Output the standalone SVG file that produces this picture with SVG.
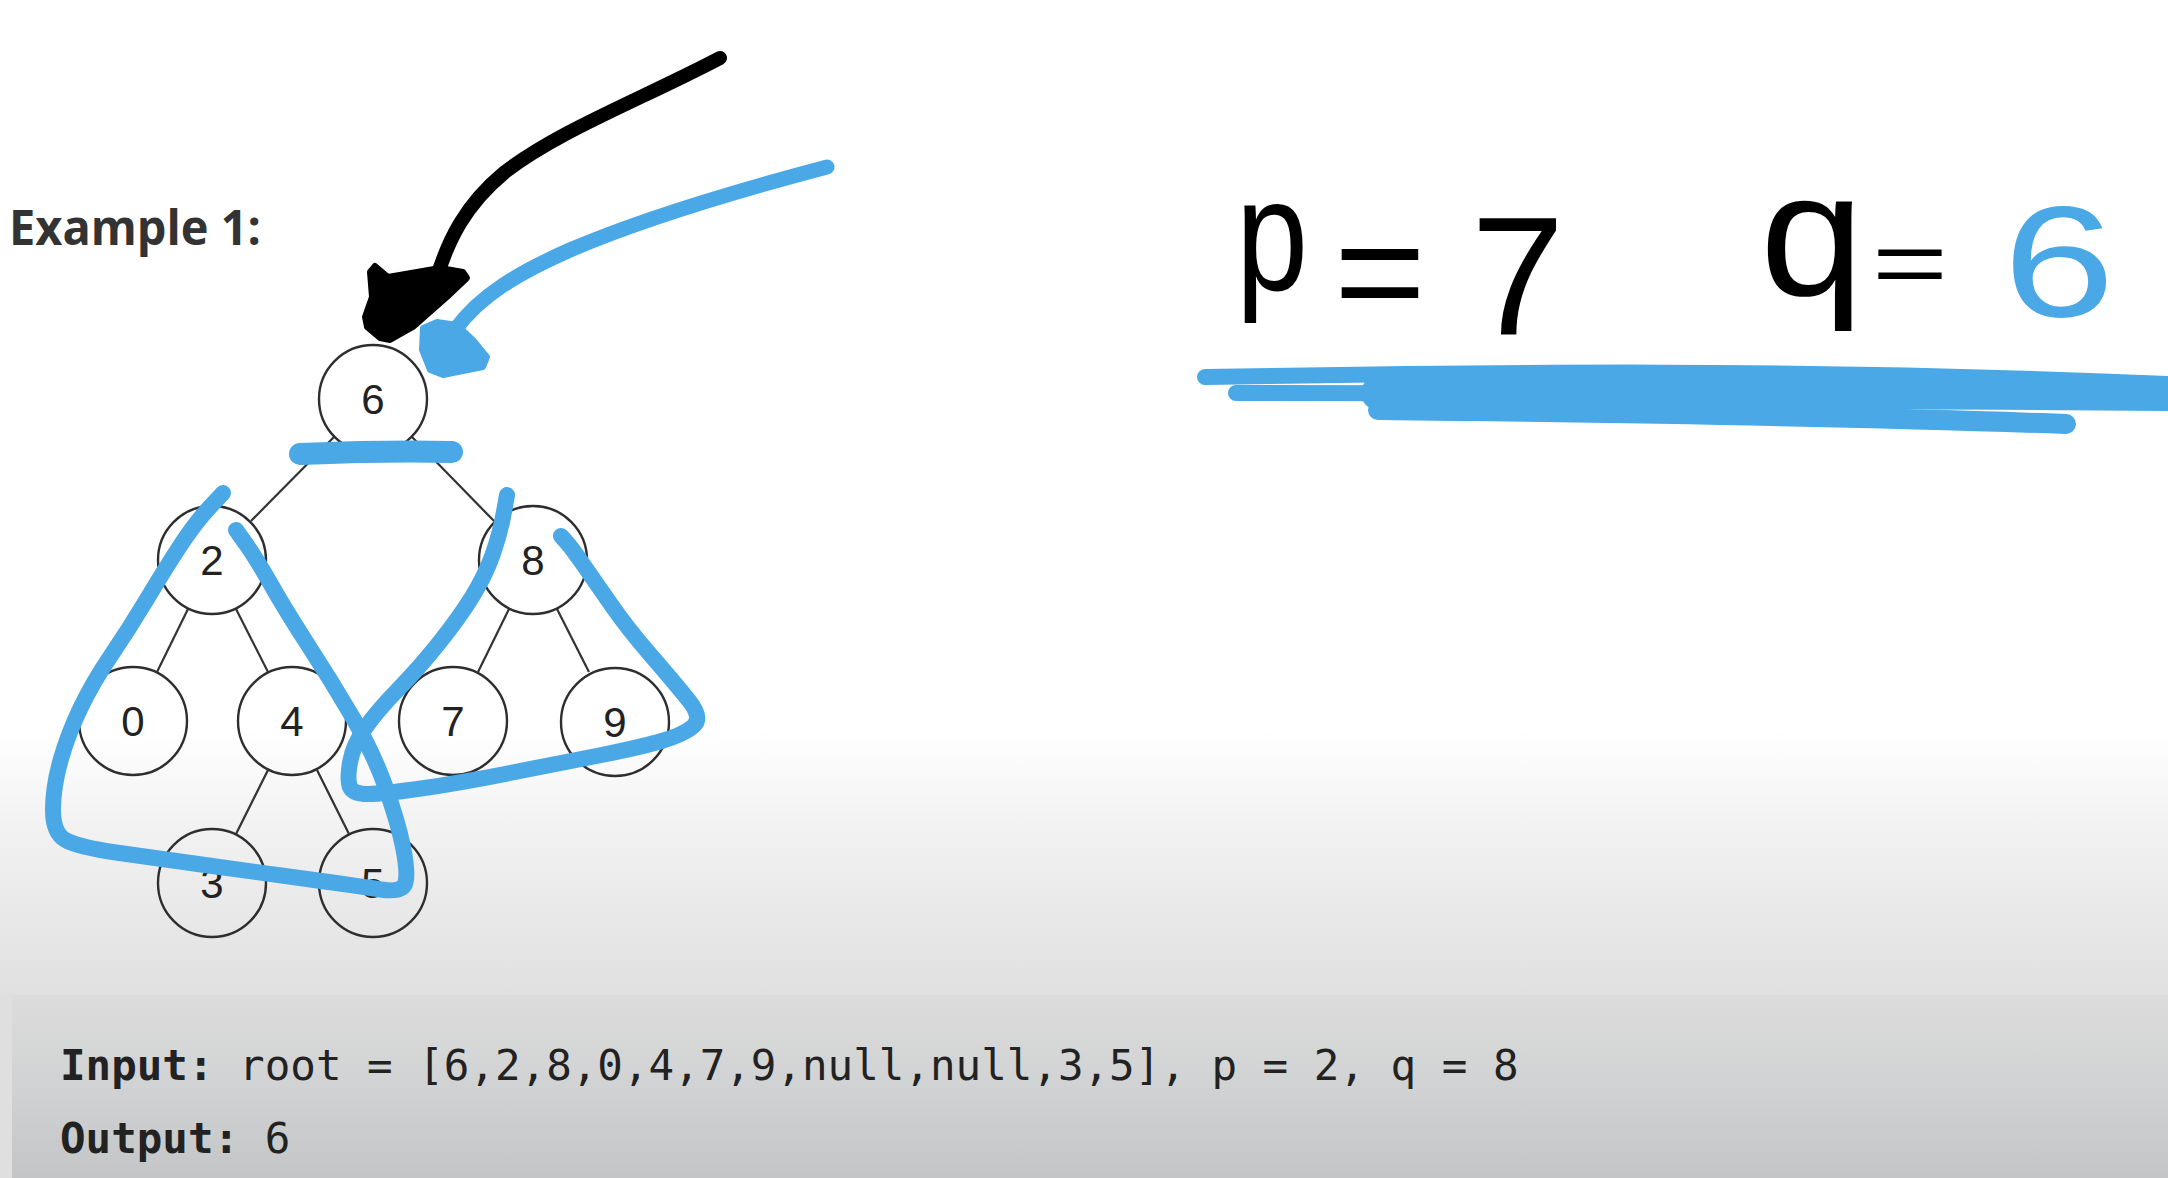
<svg xmlns="http://www.w3.org/2000/svg" width="2168" height="1178" viewBox="0 0 2168 1178">
  <defs>
    <linearGradient id="bgGrad" x1="0" y1="0" x2="0" y2="1">
      <stop offset="0" stop-color="#ffffff"/>
      <stop offset="0.3" stop-color="#f4f4f4"/>
      <stop offset="0.6" stop-color="#ebebeb"/>
      <stop offset="1" stop-color="#e0e0e0"/>
    </linearGradient>
    <linearGradient id="panelGrad" x1="0" y1="0" x2="0" y2="1">
      <stop offset="0" stop-color="#dcdcdc"/>
      <stop offset="0.5" stop-color="#d1d2d3"/>
      <stop offset="1" stop-color="#c4c5c7"/>
    </linearGradient>
    <style>
      .edge { stroke: #333333; stroke-width: 2.2; fill: none; }
      .node circle { stroke: #2e2e2e; stroke-width: 2.4; fill: none; }
      .node text { font-family: "Liberation Sans", Arial, sans-serif; font-size: 42px; fill: #222222; text-anchor: middle; }
      .blue { stroke: #4aa8e6; fill: none; stroke-linecap: round; stroke-linejoin: round; }
      .hand { font-family: "Liberation Sans", Arial, sans-serif; fill: #000000; }
      .mono { font-family: "DejaVu Sans Mono", "Liberation Mono", monospace; font-size: 42.5px; fill: #222222; }
    </style>
  </defs>

  <!-- background -->
  <rect x="0" y="0" width="2168" height="1178" fill="#ffffff"/>
  <rect x="0" y="730" width="2168" height="266" fill="url(#bgGrad)"/>
  <rect x="0" y="995" width="2168" height="183" fill="#dfdfdf"/>
  <rect x="12" y="995" width="2156" height="183" fill="url(#panelGrad)"/>

  <!-- title -->
  <text id="example-title" x="9" y="245" font-family="'Open Sans', 'Noto Sans', sans-serif" font-weight="bold" font-size="48" fill="#333333" textLength="252" lengthAdjust="spacingAndGlyphs">Example 1:</text>

  <!-- connectors -->
  <g id="edges">
    <line class="edge" x1="334" y1="437" x2="251" y2="521"/>
    <line class="edge" x1="412" y1="437" x2="494" y2="521"/>
    <line class="edge" x1="188" y1="609" x2="157" y2="672"/>
    <line class="edge" x1="236" y1="609" x2="268" y2="672"/>
    <line class="edge" x1="509" y1="609" x2="478" y2="672"/>
    <line class="edge" x1="557" y1="609" x2="589" y2="672"/>
    <line class="edge" x1="268" y1="770" x2="236" y2="834"/>
    <line class="edge" x1="317" y1="770" x2="349" y2="834"/>
  </g>

  <!-- nodes -->
  <g id="node-6" class="node"><circle cx="373" cy="399" r="54"/><text x="373" y="414">6</text></g>
  <g id="node-2" class="node"><circle cx="212" cy="560" r="54"/><text x="212" y="575">2</text></g>
  <g id="node-8" class="node"><circle cx="533" cy="560" r="54"/><text x="533" y="575">8</text></g>
  <g id="node-0" class="node"><circle cx="133" cy="721" r="54"/><text x="133" y="736">0</text></g>
  <g id="node-4" class="node"><circle cx="292" cy="721" r="54"/><text x="292" y="736">4</text></g>
  <g id="node-7" class="node"><circle cx="453" cy="721" r="54"/><text x="453" y="736">7</text></g>
  <g id="node-9" class="node"><circle cx="615" cy="722" r="54"/><text x="615" y="737">9</text></g>
  <g id="node-3" class="node"><circle cx="212" cy="883" r="54"/><text x="212" y="898">3</text></g>
  <g id="node-5" class="node"><circle cx="373" cy="883" r="54"/><text x="373" y="898">5</text></g>

  <!-- annotations -->
  <g id="annotations">
    <!-- left subtree triangle -->
    <path class="blue" stroke-width="16" d="M223,493 L209,508 Q195,523 180,546 Q165,569 147,599 Q129,629 111,655.5 Q93,682 80.5,708 Q68,734 60.5,760.5 Q53,787 53,810 Q53,833 65.5,840 Q78,847 116,852.5 Q154,858 205,865 Q256,872 307,879 Q358,886 380.5,889.5 Q403,893 405.5,882.5 Q408,872 403,847 Q398,822 385.5,787 Q373,752 352.5,717 Q332,682 309,646.5 Q286,611 271,584.5 Q256,558 246,544 L236,530"/>
    <!-- right subtree triangle -->
    <path class="blue" stroke-width="16" d="M507,495 L503.5,514.5 Q500,534 492.5,555 Q485,576 472,597 Q459,618 439,643 Q419,668 398.5,689 Q378,710 365.5,727.5 Q353,745 350,762.5 Q347,780 350,787 Q353,794 368,794 Q383,794 421,788.5 Q459,783 510,773 Q561,763 599,755.5 Q637,748 660,741.5 Q683,735 693,726.5 Q703,718 688.5,700 Q674,682 651,655.5 Q628,629 611,604.5 Q594,580 582.5,563.5 Q571,547 566,541.5 L561,536"/>
    <!-- bar under root -->
    <path class="blue" stroke-width="22" d="M300,454 C350,452 410,451 452,452"/>
    <!-- blue arrow -->
    <path class="blue" stroke-width="15" d="M827,167 C740,190 640,220 570,250 C520,272 480,295 455,330"/>
    <path fill="#4aa8e6" stroke="#4aa8e6" stroke-width="6" stroke-linejoin="round" d="M423,328 L437,322 L457,325 L473,340 L487,357 L483,367 L443,375 L430,370 L422,350 Z"/>
    <!-- black arrow -->
    <path fill="none" stroke="#000000" stroke-width="14" stroke-linecap="round" d="M720,58 C640,100 560,130 505,172 C465,205 448,240 436,280"/>
    <path fill="#000000" stroke="#000000" stroke-width="6" stroke-linejoin="round" d="M375,266 L388,277 L440,268 L463,272 L467,278 L447,297 L413,327 L390,340 L380,338 L367,327 L365,317 L372,297 L370,272 Z"/>
    <!-- underline -->
    <path class="blue" stroke-width="16" d="M1205,377 C1500,372 1800,368 2168,384"/>
    <path class="blue" stroke-width="16" d="M1236,393 C1500,392 1900,394 2168,398"/>
    <path class="blue" stroke-width="34" d="M1378,393 C1600,390 1900,392 2168,394"/>
    <path class="blue" stroke-width="20" d="M1378,410 C1650,413 1900,418 2066,424"/>
  </g>

  <!-- handwritten label -->
  <g id="pq-label">
    <text class="hand" x="1236" y="290" font-size="160" textLength="72" lengthAdjust="spacingAndGlyphs">p</text>
    <text class="hand" x="1334" y="323" font-size="150" textLength="92" lengthAdjust="spacingAndGlyphs">=</text>
    <text class="hand" x="1471" y="335" font-size="168">7</text>
    <text class="hand" x="1760" y="295" font-size="175" textLength="104" lengthAdjust="spacingAndGlyphs">q</text>
    <text class="hand" x="1872" y="294" font-size="90" textLength="76" lengthAdjust="spacingAndGlyphs">=</text>
    <text class="hand" x="2003" y="316" font-size="158" style="fill:#4aa8e6" textLength="112" lengthAdjust="spacingAndGlyphs">6</text>
  </g>

  <!-- example input/output -->
  <g id="example-io">
    <text class="mono" x="60" y="1080"><tspan font-weight="bold">Input:</tspan> root = [6,2,8,0,4,7,9,null,null,3,5], p = 2, q = 8</text>
    <text class="mono" x="60" y="1153"><tspan font-weight="bold">Output:</tspan> 6</text>
  </g>
</svg>
